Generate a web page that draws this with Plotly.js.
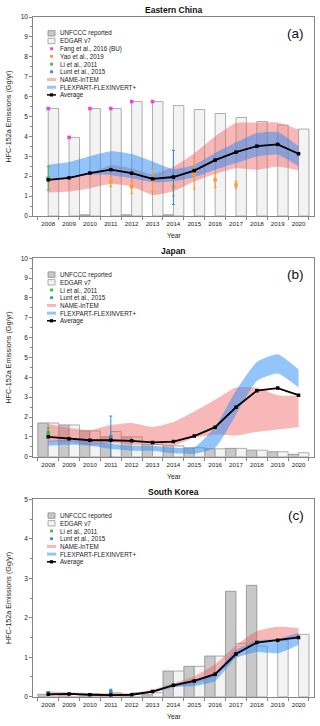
<!DOCTYPE html>
<html><head><meta charset="utf-8">
<script src="https://cdn.plot.ly/plotly-3.0.1.min.js"></script>
<style>html,body{margin:0;padding:0;background:#fff}#chart{width:320px;height:726px}</style>
</head><body><div id="chart"></div>
<script>
// ---------------- DATA ----------------
const years = [2008,2009,2010,2011,2012,2013,2014,2015,2016,2017,2018,2019,2020];

// Eastern China
const cnUnfccc = [null,null,0.06,null,0.06,null,0.06,null,null,null,null,null,null];
const cnEdgar  = [5.4,3.95,5.4,5.4,5.75,5.75,5.55,5.35,5.15,4.95,4.75,4.57,4.37];
const cnNameLo = [1.18,1.23,1.4,1.62,1.48,1.06,1.25,1.73,2.12,2.4,2.32,2.49,2.29];
const cnNameHi = [1.85,1.95,2.15,2.55,2.4,2.1,2.47,3.15,4.0,4.67,4.7,4.7,4.34];
const cnFlexLo = [1.8,1.88,2.08,2.05,1.9,1.7,1.75,1.95,2.32,2.66,2.99,3.08,2.5];
const cnFlexHi = [2.57,2.71,3.0,3.25,3.11,2.74,2.35,2.57,3.16,3.7,4.17,4.22,3.5];
const cnAvg    = [1.82,1.92,2.16,2.33,2.15,1.87,1.96,2.28,2.81,3.21,3.51,3.6,3.13];
const fangYears = [2008,2009,2010,2011,2012,2013];
const fangVals  = [5.4,3.95,5.4,5.4,5.75,5.75];
const yaoYears = [2011,2012,2013,2014,2015,2016,2017];
const yaoVals  = [1.73,1.48,1.8,1.48,2.1,1.82,1.56];
const yaoLo    = [1.48,1.14,1.23,1.01,1.35,1.43,1.40];
const yaoHi    = [1.98,1.78,2.35,1.95,2.91,2.18,1.74];
const cnLiYears = [2008], cnLiVals = [1.9], cnLiLo = [1.3], cnLiHi = [2.5];
const cnLuntYears = [2014], cnLuntVals = [1.95], cnLuntLo = [0.58], cnLuntHi = [3.3];

// Japan
const jpUnfccc = [1.7,1.6,1.3,1.0,1.0,0.62,0.55,0.45,0.4,0.42,0.33,0.25,0.12];
const jpEdgar  = [1.7,1.6,1.3,1.27,1.0,0.62,0.55,0.45,0.4,0.42,0.33,0.25,0.2];
const jpNameLo = [0.75,0.75,0.55,0.7,0.6,0.6,0.55,0.95,1.12,1.07,1.25,1.37,1.5];
const jpNameHi = [1.65,1.45,1.35,1.6,1.7,1.5,1.75,2.28,2.87,3.49,3.49,3.1,3.07];
const jpFlexLo = [0.55,0.6,0.55,0.4,0.3,0.3,0.17,0.15,0.45,2.12,3.82,4.19,3.49];
const jpFlexHi = [0.8,0.85,0.78,0.65,0.55,0.55,0.45,0.48,1.5,3.32,4.77,5.16,4.39];
const jpAvg    = [1.0,0.9,0.83,0.83,0.8,0.72,0.76,1.04,1.49,2.49,3.33,3.46,3.1];
const jpLiYears = [2008], jpLiVals = [1.2], jpLiLo = [0.97], jpLiHi = [1.45];
const jpLuntYears = [2011], jpLuntVals = [1.0], jpLuntLo = [0.0], jpLuntHi = [2.05];

// South Korea
const krUnfccc = [0.06,0.05,0.05,0.05,0.05,0.05,0.65,0.77,1.03,2.67,2.82,null,null];
const krEdgar  = [0.07,0.07,0.07,0.1,0.1,0.1,0.65,0.77,1.03,1.35,1.28,1.43,1.58];
const krNameLo = [0.03,0.04,0.03,0.02,0.03,0.1,0.24,0.33,0.52,1.02,1.36,1.41,1.46];
const krNameHi = [0.14,0.11,0.09,0.09,0.09,0.18,0.34,0.52,0.82,1.3,1.66,1.77,1.74];
const krFlexLo = [0.03,0.04,0.03,0.02,0.03,0.1,0.24,0.27,0.4,0.98,1.13,1.1,1.31];
const krFlexHi = [0.08,0.09,0.07,0.06,0.07,0.15,0.32,0.43,0.6,1.18,1.42,1.46,1.62];
const krAvg    = [0.06,0.07,0.05,0.04,0.05,0.13,0.29,0.4,0.57,1.08,1.37,1.43,1.5];
const krLiYears = [2008], krLiVals = [0.1], krLiLo = [0.08], krLiHi = [0.12];
const krLuntYears = [2011], krLuntVals = [0.13], krLuntLo = [0.05], krLuntHi = [0.19];

// Text
const panelTitles = ['Eastern China','Japan','South Korea'];
const panelLetters = ['(a)','(b)','(c)'];
const yTitle = 'HFC-152a Emissions (Gg/yr)';
const xTitle = 'Year';
const legendA = ['UNFCCC reported','EDGAR v7','Fang et al., 2016 (BU)','Yao et al., 2019','Li et al., 2011','Lunt et al., 2015','NAME-InTEM','FLEXPART-FLEXINVERT+','Average'];
const legendBC = ['UNFCCC reported','EDGAR v7','Li et al., 2011','Lunt et al., 2015','NAME-InTEM','FLEXPART-FLEXINVERT+','Average'];

// ---------------- STYLE / LAYOUT ----------------
const W=320,H=726,ML=33,MR=6,MT=17,MB=29;
const PW=W-ML-MR, PH=H-MT-MB;
const px = x => (x-ML)/PW;
const py = y => (H-MB-y)/PH;
const FONT = 'Liberation Sans, Arial, Helvetica, sans-serif';
const C = {
  unf:'#c8c8c8', unfLine:'#8c8c8c', edg:'#f3f3f3', edgLine:'#9a9a9a',
  name:'rgba(238,85,85,0.42)', flex:'rgba(40,140,245,0.50)',
  fang:'#f03cf0', yao:'#ff9a2e', li:'#3cb83c', lunt:'#3a87cf'
};
const panels = [
  {top:17, bottom:216, ymax:10, s:'', ax:'x', ay:'y'},
  {top:258.3, bottom:456.7, ymax:10, s:'2', ax:'x2', ay:'y2'},
  {top:499.3, bottom:696.7, ymax:5, s:'3', ax:'x3', ay:'y3'}
];

const traces = [];
function addBars(p, unf, edg){
  traces.push({type:'bar', x:years, y:unf, offset:-0.5, width:0.5, xaxis:p.ax, yaxis:p.ay,
    marker:{color:C.unf, line:{color:C.unfLine, width:0.8}}, showlegend:false, hoverinfo:'skip'});
  traces.push({type:'bar', x:years, y:edg, offset:0, width:0.5, xaxis:p.ax, yaxis:p.ay,
    marker:{color:C.edg, line:{color:C.edgLine, width:0.8}}, showlegend:false, hoverinfo:'skip'});
}
function addBand(p, lo, hi, col){
  traces.push({type:'scatter', x:years, y:lo, mode:'lines', line:{width:0, shape:'spline', smoothing:0.5},
    xaxis:p.ax, yaxis:p.ay, showlegend:false, hoverinfo:'skip'});
  traces.push({type:'scatter', x:years, y:hi, mode:'lines', fill:'tonexty', fillcolor:col,
    line:{width:0, shape:'spline', smoothing:0.5}, xaxis:p.ax, yaxis:p.ay, showlegend:false, hoverinfo:'skip'});
}
function addPts(p, xs, vs, lo, hi, col){
  const e = lo ? {type:'data', symmetric:false, array:hi.map((h,i)=>h-vs[i]), arrayminus:lo.map((l,i)=>vs[i]-l),
    color:col, thickness:1, width:1.5} : undefined;
  traces.push({type:'scatter', x:xs, y:vs, mode:'markers', marker:{symbol:'square', size:3.5, color:col},
    error_y:e, xaxis:p.ax, yaxis:p.ay, showlegend:false, hoverinfo:'skip', cliponaxis:false});
}
function addAvg(p, a){
  traces.push({type:'scatter', x:years, y:a, mode:'lines+markers', line:{color:'#000', width:1.8},
    marker:{symbol:'square', size:3.5, color:'#000'}, xaxis:p.ax, yaxis:p.ay, showlegend:false, hoverinfo:'skip'});
}

// Panel a
addBars(panels[0], cnUnfccc, cnEdgar);
addBand(panels[0], cnNameLo, cnNameHi, C.name);
addBand(panels[0], cnFlexLo, cnFlexHi, C.flex);
addPts(panels[0], fangYears, fangVals, null, null, C.fang);
addPts(panels[0], yaoYears, yaoVals, yaoLo, yaoHi, C.yao);
addPts(panels[0], cnLiYears, cnLiVals, cnLiLo, cnLiHi, C.li);
addPts(panels[0], cnLuntYears, cnLuntVals, cnLuntLo, cnLuntHi, C.lunt);
addAvg(panels[0], cnAvg);
// Panel b
addBars(panels[1], jpUnfccc, jpEdgar);
addBand(panels[1], jpNameLo, jpNameHi, C.name);
addBand(panels[1], jpFlexLo, jpFlexHi, C.flex);
addPts(panels[1], jpLiYears, jpLiVals, jpLiLo, jpLiHi, C.li);
addPts(panels[1], jpLuntYears, jpLuntVals, jpLuntLo, jpLuntHi, C.lunt);
addAvg(panels[1], jpAvg);
// Panel c
addBars(panels[2], krUnfccc, krEdgar);
addBand(panels[2], krNameLo, krNameHi, C.name);
addBand(panels[2], krFlexLo, krFlexHi, C.flex);
addPts(panels[2], krLiYears, krLiVals, krLiLo, krLiHi, C.li);
addPts(panels[2], krLuntYears, krLuntVals, krLuntLo, krLuntHi, C.lunt);
addAvg(panels[2], krAvg);

const layout = {
  width:W, height:H, margin:{l:ML,r:MR,t:MT,b:MB}, paper_bgcolor:'#fff', plot_bgcolor:'#fff',
  barmode:'overlay', showlegend:false, font:{family:FONT, color:'#222', size:6.3},
  annotations:[], shapes:[]
};
const halfYears = years.map(y=>y-0.5).concat([2020.5]);
panels.forEach((p,i)=>{
  const xa = {domain:[0,1], range:[2007.27,2020.74], anchor:p.ay, tickmode:'array', tickvals:years,
    ticktext:years.map(String), ticks:'', showline:true, linecolor:'#666', linewidth:0.8, mirror:true,
    showgrid:false, zeroline:false, tickfont:{size:6.2, color:'#222'}, ticklabelstandoff:2,
    minor:{tickmode:'array', tickvals:halfYears, ticks:'outside', ticklen:3, tickcolor:'#666', tickwidth:0.8}};
  const ya = {domain:[py(p.bottom), py(p.top)], range:[0,p.ymax], anchor:p.ax, dtick:1, ticks:'outside',
    ticklen:3, tickcolor:'#666', tickwidth:0.8, showline:true, linecolor:'#666', linewidth:0.8, mirror:true,
    showgrid:false, zeroline:false, tickfont:{size:6.5, color:'#222'},
    minor:{dtick:0.5, ticks:'outside', ticklen:2, tickcolor:'#666', tickwidth:0.8}};
  layout['xaxis'+p.s] = xa; layout['yaxis'+p.s] = ya;
  const A = layout.annotations;
  A.push({xref:'paper', yref:'paper', x:px(173.5), y:py(p.top-7), text:'<b>'+panelTitles[i]+'</b>',
    showarrow:false, xanchor:'center', yanchor:'middle', font:{size:8.5, color:'#111'}});
  A.push({xref:'paper', yref:'paper', x:px(306), y:py(p.top+16.5), text:panelLetters[i],
    showarrow:false, xanchor:'right', yanchor:'middle', font:{size:13.5, color:'#111'}});
  A.push({xref:'paper', yref:'paper', x:px(173.5), y:py(p.bottom+20), text:xTitle,
    showarrow:false, xanchor:'center', yanchor:'middle', font:{size:6.8, color:'#222'}});
  A.push({xref:'paper', yref:'paper', x:px(8), y:py((p.top+p.bottom)/2), text:yTitle, textangle:-90,
    showarrow:false, xanchor:'center', yanchor:'middle', font:{size:7.2, color:'#222'}});
  // legend
  const labels = i===0 ? legendA : legendBC;
  const kinds = i===0 ? ['unf','edg','fang','yao','li','lunt','name','flex','avg'] : ['unf','edg','li','lunt','name','flex','avg'];
  const y0 = p.top + 16.3, dy = 7.7, cx = 51.5;
  labels.forEach((t,k)=>{
    const yc = y0 + k*dy, kind = kinds[k];
    A.push({xref:'paper', yref:'paper', x:px(58), y:py(yc), text:t, showarrow:false,
      xanchor:'left', yanchor:'middle', font:{size:6.3, color:'#222'}});
    const S = layout.shapes;
    if(kind==='unf' || kind==='edg'){
      S.push({type:'rect', xref:'paper', yref:'paper', x0:px(cx-3.5), x1:px(cx+3.5), y0:py(yc+2.7), y1:py(yc-2.7),
        fillcolor: kind==='unf'?C.unf:C.edg, line:{color: kind==='unf'?C.unfLine:C.edgLine, width:0.8}});
    } else if(kind==='name' || kind==='flex'){
      S.push({type:'line', xref:'paper', yref:'paper', x0:px(cx-4.5), x1:px(cx+4.5), y0:py(yc), y1:py(yc),
        line:{color: kind==='name'?C.name:C.flex, width:3}});
    } else if(kind==='avg'){
      S.push({type:'line', xref:'paper', yref:'paper', x0:px(cx-4.5), x1:px(cx+4.5), y0:py(yc), y1:py(yc),
        line:{color:'#000', width:1.5}});
      S.push({type:'rect', xref:'paper', yref:'paper', x0:px(cx-1.6), x1:px(cx+1.6), y0:py(yc+1.6), y1:py(yc-1.6),
        fillcolor:'#000', line:{width:0}});
    } else {
      S.push({type:'rect', xref:'paper', yref:'paper', x0:px(cx-1.4), x1:px(cx+1.4), y0:py(yc+1.4), y1:py(yc-1.4),
        fillcolor:C[kind], line:{width:0}});
    }
  });
});

Plotly.newPlot('chart', traces, layout, {staticPlot:true, displayModeBar:false});
</script>
</body></html>
